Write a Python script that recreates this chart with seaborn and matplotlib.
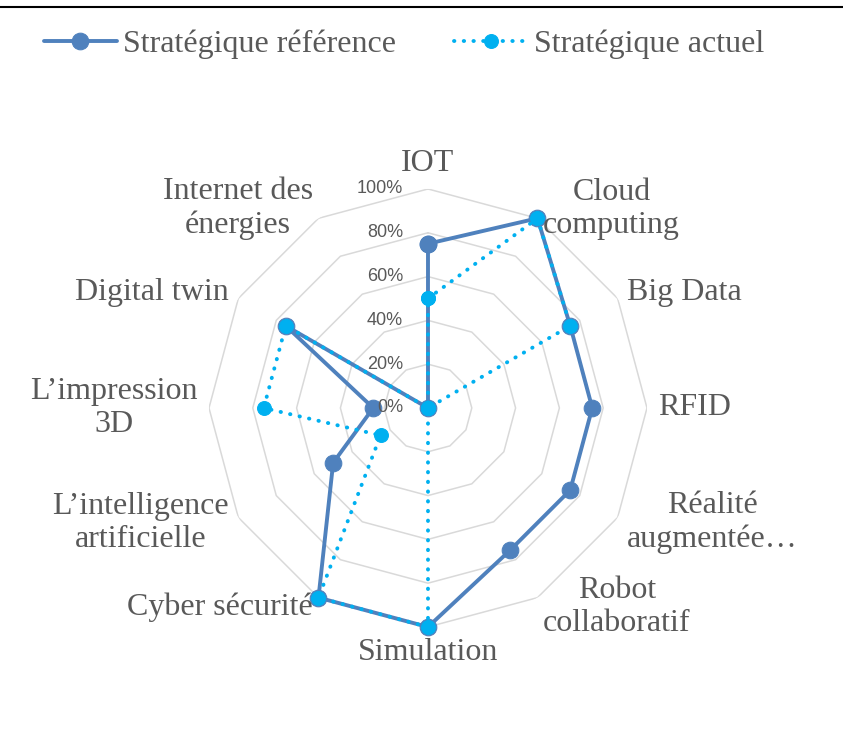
import numpy as np
import pandas as pd
import matplotlib
matplotlib.use('Agg')
import matplotlib.pyplot as plt
from matplotlib.lines import Line2D
import seaborn as sns

# data (percent)
categories = ['IOT', 'Cloud\ncomputing', 'Big Data', 'RFID', 'Réalité\naugmentée…',
              'Robot\ncollaboratif', 'Simulation', 'Cyber sécurité',
              'L’intelligence\nartificielle', 'L’impression\n3D', 'Digital twin',
              'Internet des\nénergies']
reference = [75, 100, 75, 75, 75, 75, 100, 100, 50, 25, 75, 0]
actuel = [50, 100, 75, 0, 0, 0, 100, 100, 25, 75, 75, 0]
ticks = [0, 20, 40, 60, 80, 100]
series_names = ['Stratégique référence', 'Stratégique actuel']

ref_color = '#4F81BD'
act_color = '#00B0F0'
grid_color = '#D9D9D9'
text_color = '#595959'

sns.set_style('white')
plt.rcParams['font.family'] = ['Liberation Serif', 'DejaVu Serif']

n = len(categories)
angles = np.linspace(0, 2 * np.pi, n, endpoint=False)
df = pd.DataFrame({'angle': angles, 'reference': reference, 'actuel': actuel})
closed = pd.concat([df, df.iloc[[0]]], ignore_index=True)
closed.loc[len(closed) - 1, 'angle'] = 2 * np.pi

fig = plt.figure(figsize=(8.43, 7.31), dpi=100)
ax = fig.add_axes([0.2479, 0.1423, 0.5196, 0.5992], projection='polar')
ax.set_theta_zero_location('N')
ax.set_theta_direction(-1)
ax.set_ylim(0, 100)
ax.grid(False)
ax.set_xticks([])
ax.set_yticks([])
ax.spines['polar'].set_visible(False)
ax.patch.set_alpha(0)

# polygon rings instead of circles
for t in ticks[1:]:
    ax.plot(closed['angle'], [t] * len(closed), color=grid_color, lw=1.1, zorder=1)

sns.lineplot(data=closed, x='angle', y='reference', sort=False, estimator=None, ax=ax,
             color=ref_color, lw=2.8, marker='o', markersize=12,
             markeredgecolor=ref_color, label=series_names[0], zorder=3, clip_on=False)
sns.lineplot(data=closed, x='angle', y='actuel', sort=False, estimator=None, ax=ax,
             color=act_color, lw=2.8, linestyle=(0, (0.1, 2.4)), dash_capstyle='round',
             marker='o', markersize=10, markeredgecolor=act_color,
             label=series_names[1], zorder=4, clip_on=False)
ax.set_xlabel('')
ax.set_ylabel('')

# percentage labels along the vertical axis
for t in ticks:
    ax.annotate(f'{t}%', xy=(0, t), xytext=(-18, 0), textcoords='offset points',
                ha='right', va='center', fontsize=13, color=text_color,
                family='Liberation Sans', zorder=5)

# category labels
for a, lab in zip(angles, categories):
    deg = np.degrees(a)
    if np.isclose(deg, 0):
        ha, va = 'center', 'bottom'
    elif np.isclose(deg, 180):
        ha, va = 'center', 'top'
    elif deg < 180:
        ha, va = 'left', 'center'
    else:
        ha, va = 'right', 'center'
    ax.text(a, 105, lab, ha=ha, va=va, multialignment='center', fontsize=23,
            color=text_color, linespacing=1.2)

handles, labels = ax.get_legend_handles_labels()
ax.get_legend().remove()
fig.legend(handles, labels, loc='center', bbox_to_anchor=(0.479, 0.939), ncol=2,
           frameon=False, handlelength=2.3, handletextpad=0.2, columnspacing=1.8,
           prop={'size': 23}, labelcolor=text_color)

fig.add_artist(Line2D([0, 1], [0.99, 0.99], transform=fig.transFigure,
                      color='black', lw=1.5))

fig.savefig('out.png', dpi=100)
